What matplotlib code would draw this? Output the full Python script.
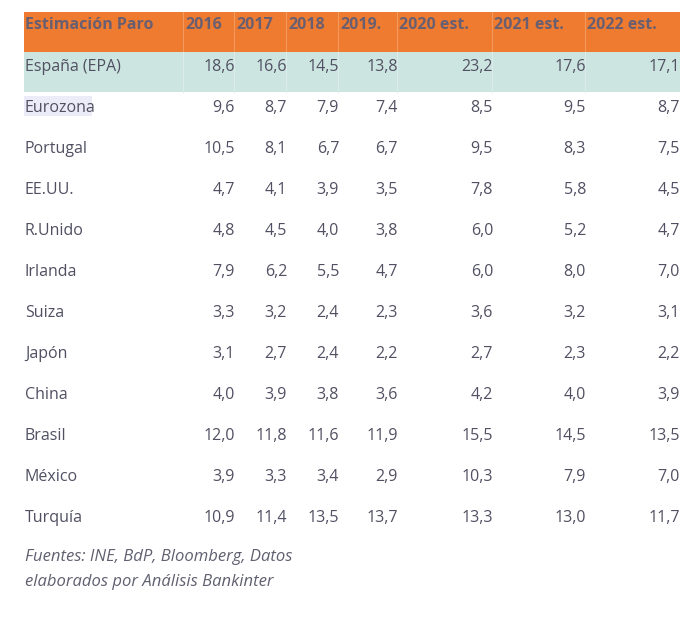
import matplotlib.pyplot as plt
from matplotlib.patches import Rectangle

# table contents
header_title = "Estimación Paro"
years = ["2016", "2017", "2018", "2019.", "2020 est.", "2021 est.", "2022 est."]
countries = ["España (EPA)", "Eurozona", "Portugal", "EE.UU.", "R.Unido", "Irlanda",
             "Suiza", "Japón", "China", "Brasil", "México", "Turquía"]
v2016 = [18.6, 9.6, 10.5, 4.7, 4.8, 7.9, 3.3, 3.1, 4.0, 12.0, 3.9, 10.9]
v2017 = [16.6, 8.7, 8.1, 4.1, 4.5, 6.2, 3.2, 2.7, 3.9, 11.8, 3.3, 11.4]
v2018 = [14.5, 7.9, 6.7, 3.9, 4.0, 5.5, 2.4, 2.4, 3.8, 11.6, 3.4, 13.5]
v2019 = [13.8, 7.4, 6.7, 3.5, 3.8, 4.7, 2.3, 2.2, 3.6, 11.9, 2.9, 13.7]
v2020 = [23.2, 8.5, 9.5, 7.8, 6.0, 6.0, 3.6, 2.7, 4.2, 15.5, 10.3, 13.3]
v2021 = [17.6, 9.5, 8.3, 5.8, 5.2, 8.0, 3.2, 2.3, 4.0, 14.5, 7.9, 13.0]
v2022 = [17.1, 8.7, 7.5, 4.5, 4.7, 7.0, 3.1, 2.2, 3.9, 13.5, 7.0, 11.7]
source = "Fuentes: INE, BdP, Bloomberg, Datos\nelaborados por Análisis Bankinter"

columns = [v2016, v2017, v2018, v2019, v2020, v2021, v2022]

# layout in pixels
col_edges = [24, 183, 234, 286, 338, 397, 492, 585, 679]
head_top, head_bot = 12, 52
row_h = 41
first_row_y = 67
orange = "#ee7b30"
teal = "#cde5e0"
txt = "#505062"
head_txt = "#6a5f70"

plt.rcParams['font.family'] = ['Open Sans', 'DejaVu Sans']

fig = plt.figure(figsize=(6.8, 6.19), dpi=100)
ax = fig.add_axes([0, 0, 1, 1])
ax.set_xlim(0, 680)
ax.set_ylim(619, 0)
ax.axis('off')

# header band
ax.add_patch(Rectangle((col_edges[0], head_top), 680 - col_edges[0],
                       head_bot - head_top, color=orange, lw=0))
# first row band
ax.add_patch(Rectangle((col_edges[0], head_bot), 680 - col_edges[0],
                       40, color=teal, lw=0))
for x in col_edges[1:-1]:
    ax.plot([x, x], [head_top, head_bot], color="#f19a5c", lw=0.8)
    ax.plot([x, x], [head_bot, head_bot + 40], color="#dcecea", lw=0.8)

ax.text(col_edges[0] + 1, 25, header_title, ha='left', va='center',
        fontsize=11.5, fontweight='bold', color=head_txt)
for i, y in enumerate(years):
    ax.text(col_edges[i + 1] + 2, 25, y, ha='left', va='center',
            fontsize=11.5, fontweight='bold', color=head_txt)

# selection highlight behind Eurozona
ax.add_patch(Rectangle((24, 96), 68, 20, color="#ececf8", lw=0))

for r, name in enumerate(countries):
    yc = first_row_y + r * row_h
    ax.text(col_edges[0] + 1, yc, name, ha='left', va='center', fontsize=11.5, color=txt)
    for c, vals in enumerate(columns):
        s = f"{vals[r]:.1f}".replace('.', ',')
        ax.text(col_edges[c + 2] + 1, yc, s, ha='right', va='center', fontsize=11.5, color=txt)

# source note
ax.text(col_edges[0] + 1, 549, source, ha='left', va='top', fontsize=12, style='italic',
        color="#606070", linespacing=1.75)

fig.savefig("out.png", dpi=100)
